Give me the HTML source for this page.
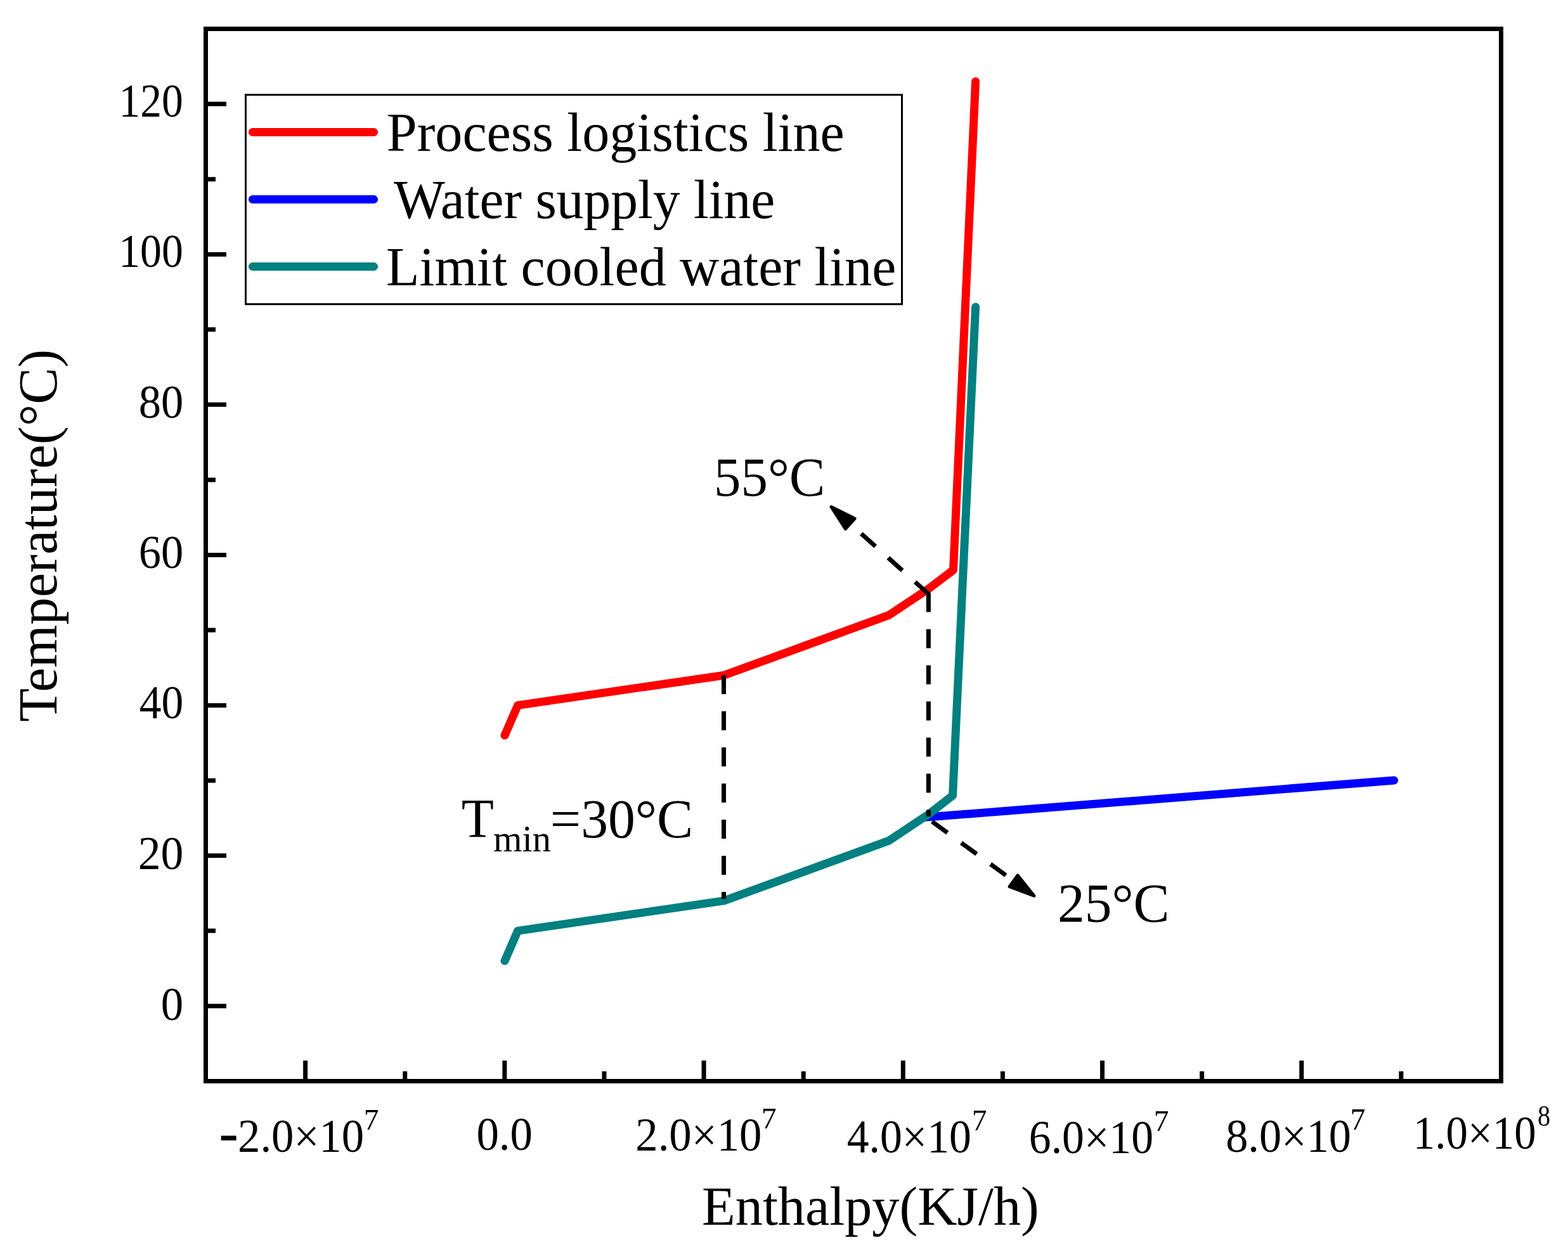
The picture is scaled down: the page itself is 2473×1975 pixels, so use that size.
<!DOCTYPE html>
<html><head><meta charset="utf-8"><title>Enthalpy-Temperature chart</title>
<style>
html,body{margin:0;padding:0;background:#fff;}
svg{display:block;}
text{font-family:"Liberation Serif","Times New Roman",serif;fill:#000;}
</style></head>
<body>
<svg width="2473" height="1975" viewBox="0 0 2473 1975">
<rect x="0" y="0" width="2473" height="1975" fill="#fff"/>
<!-- data lines -->
<polyline points="796.00,1160.07 816.60,1112.64 1142.00,1065.21 1402.00,970.36 1464.40,928.90 1503.50,899.21 1538.60,128.50" fill="none" stroke="#ff0000" stroke-width="13" stroke-linecap="round" stroke-linejoin="round"/>
<polyline points="1459.00,1289.30 2198.60,1231.00" fill="none" stroke="#0000ff" stroke-width="13" stroke-linecap="round" stroke-linejoin="round"/>
<polyline points="796.00,1515.79 816.60,1468.36 1142.00,1420.93 1402.00,1326.07 1464.40,1284.60 1502.60,1254.93 1538.60,484.21" fill="none" stroke="#008080" stroke-width="13" stroke-linecap="round" stroke-linejoin="round"/>
<!-- dashed guides -->
<g stroke="#000" stroke-width="7" fill="none" stroke-dasharray="30 27">
<path d="M1141.5 1065.1V1418"/>
<path d="M1464.4 935.6V1288"/>
<path d="M1465.60 938.00L1340.79 826.19"/>
<path d="M1470.00 1296.00L1598.66 1389.66"/>
</g>
<polygon points="1311.00,799.50 1348.13,818.00 1333.45,834.38" fill="#000" stroke="#000" stroke-width="5" stroke-linejoin="round"/>
<polygon points="1631.00,1413.20 1592.19,1398.55 1605.13,1380.77" fill="#000" stroke="#000" stroke-width="5" stroke-linejoin="round"/>
<!-- frame -->
<rect x="324.5" y="45.5" width="2043.0" height="1660.0" fill="none" stroke="#000" stroke-width="7"/>
<path d="M328 1586.93H357 M328 1349.79H357 M328 1112.64H357 M328 875.50H357 M328 638.36H357 M328 401.21H357 M328 164.07H357 M328 1468.36H340 M328 1231.21H340 M328 994.07H340 M328 756.93H340 M328 519.79H340 M328 282.64H340 M481.62 1702V1673 M795.85 1702V1673 M1110.08 1702V1673 M1424.31 1702V1673 M1738.54 1702V1673 M2052.77 1702V1673 M638.73 1702V1690 M952.96 1702V1690 M1267.19 1702V1690 M1581.42 1702V1690 M1895.65 1702V1690 M2209.88 1702V1690" stroke="#000" stroke-width="7" fill="none"/>
<!-- legend -->
<rect x="387.5" y="149.5" width="1035" height="330.3" fill="#fff" stroke="#000" stroke-width="3"/>
<g stroke-width="13" stroke-linecap="round">
<line x1="398.4" y1="208.5" x2="589.6" y2="208.5" stroke="#ff0000"/>
<line x1="398.4" y1="314.5" x2="589.6" y2="314.5" stroke="#0000ff"/>
<line x1="398.4" y1="420.5" x2="589.6" y2="420.5" stroke="#008080"/>
</g>
<!-- text -->
<text transform="translate(187.42 183.90) scale(0.9127 1)" font-size="74">120</text>
<text transform="translate(187.21 420.70) scale(0.9157 1)" font-size="74">100</text>
<text transform="translate(218.84 659.20) scale(0.9529 1)" font-size="74">80</text>
<text transform="translate(218.84 895.90) scale(0.9529 1)" font-size="74">60</text>
<text transform="translate(219.66 1132.70) scale(0.9400 1)" font-size="74">40</text>
<text transform="translate(217.70 1371.00) scale(0.9676 1)" font-size="74">20</text>
<text transform="translate(253.73 1608.50) scale(0.9581 1)" font-size="74">0</text>
<text transform="translate(375.03 1817.00) scale(0.9557 1)" font-size="74">2.0×10</text>
<text transform="translate(573.77 1782.00) scale(1.0105 1.0032)" font-size="47">7</text>
<text transform="translate(751.43 1814.20) scale(0.9575 1)" font-size="74">0.0</text>
<text transform="translate(1002.23 1814.50) scale(0.9571 1)" font-size="74">2.0×10</text>
<text transform="translate(1200.75 1780.10) scale(1.0158 1.0065)" font-size="47">7</text>
<text transform="translate(1335.66 1818.00) scale(0.9424 1)" font-size="74">4.0×10</text>
<text transform="translate(1532.77 1783.00) scale(1.0105 1.0032)" font-size="47">7</text>
<text transform="translate(1622.77 1819.00) scale(0.9429 1)" font-size="74">6.0×10</text>
<text transform="translate(1819.87 1784.00) scale(1.0105 1.0032)" font-size="47">7</text>
<text transform="translate(1933.25 1816.70) scale(0.9493 1)" font-size="74">8.0×10</text>
<text transform="translate(2129.54 1781.60) scale(1.0211 1.0258)" font-size="47">7</text>
<text transform="translate(2228.71 1811.50) scale(0.9320 1)" font-size="74">1.0×10</text>
<text transform="translate(2425.08 1775.90) scale(0.8600 1.0000)" font-size="47">8</text>
<text transform="translate(345.31 1819.00) scale(0.9231 1.0000)" font-size="100">-</text>
<text transform="translate(609.82 238.00) scale(0.9895 1)" font-size="87">Process logistics line</text>
<text transform="translate(620.90 344.00) scale(0.9837 1)" font-size="87">Water supply line</text>
<text transform="translate(609.02 450.00) scale(0.9881 1)" font-size="87">Limit cooled water line</text>
<text transform="translate(1107.11 1932.00) scale(0.9972 1)" font-size="86.5">Enthalpy(KJ/h)</text>
<text transform="translate(1126.02 782.00) scale(0.9759 1)" font-size="87">55°C</text>
<text transform="translate(1667.97 1454.00) scale(0.9825 1)" font-size="87">25°C</text>
<text transform="translate(727.64 1320.10) scale(0.9627 1)" font-size="87">T</text>
<text transform="translate(778.03 1343.00) scale(0.9747 1)" font-size="60">min</text>
<text transform="translate(867.86 1320.50) scale(0.9850 1)" font-size="87">=30°C</text>
<text transform="translate(89.10 1138.80) rotate(-90) scale(0.9983 1)" font-size="87">Temperature(°C)</text>
</svg>
</body></html>
